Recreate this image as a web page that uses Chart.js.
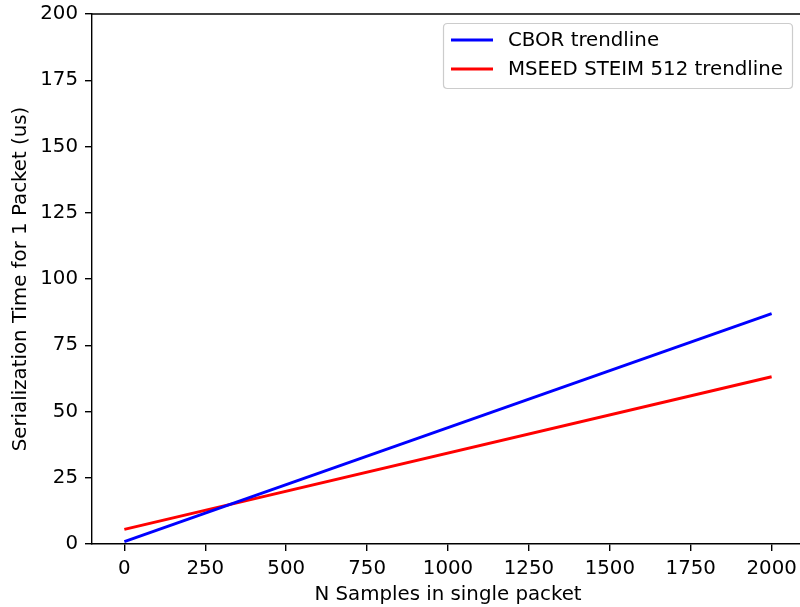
<!DOCTYPE html>
<html>
<head>
<meta charset="utf-8">
<script src="https://cdn.jsdelivr.net/npm/chart.js@4/dist/chart.umd.min.js"></script>
<style>
  html, body { margin: 0; padding: 0; background: #fff; overflow: hidden; }
  #wrap { position: relative; width: 812px; height: 607px; }
</style>
</head>
<body>
<div id="wrap"><canvas id="c"></canvas></div>
<script>
// Sample counts at the ends of each fitted trendline
const sampleCounts = [0, 2000];
// Serialization time (us) per packet along each trendline
const cborTimes = [0.9, 86.9];
const mseedTimes = [5.5, 63.1];
const seriesNames = ['CBOR trendline', 'MSEED STEIM 512 trendline'];
const seriesColors = ['#0000ff', '#ff0000'];
// Axis ticks
const xTickValues = [0, 250, 500, 750, 1000, 1250, 1500, 1750, 2000];
const yTickValues = [0, 25, 50, 75, 100, 125, 150, 175, 200];

const FONT = 'DejaVu Sans';
const FS = 19.8;
const SPINE = 1.4;

const toPoints = ys => sampleCounts.map((x, i) => ({ x, y: ys[i] }));

// Top spine of the axes box
const frame = {
  id: 'frame',
  afterDraw(chart) {
    const { ctx, chartArea: a } = chart;
    ctx.save();
    ctx.strokeStyle = '#000';
    ctx.lineWidth = SPINE;
    ctx.beginPath();
    ctx.moveTo(a.left - SPINE / 2, a.top);
    ctx.lineTo(a.right, a.top);
    ctx.stroke();
    ctx.restore();
  }
};

// Boxed legend in the upper right corner
const boxLegend = {
  id: 'boxLegend',
  afterDraw(chart) {
    const { ctx } = chart;
    const x0 = 443.5, y0 = 23.5, w = 349, h = 65;
    ctx.save();
    ctx.fillStyle = 'rgba(255,255,255,0.8)';
    ctx.strokeStyle = '#cccccc';
    ctx.lineWidth = 1.2;
    const r = 4;
    ctx.beginPath();
    ctx.moveTo(x0 + r, y0);
    ctx.lineTo(x0 + w - r, y0);
    ctx.quadraticCurveTo(x0 + w, y0, x0 + w, y0 + r);
    ctx.lineTo(x0 + w, y0 + h - r);
    ctx.quadraticCurveTo(x0 + w, y0 + h, x0 + w - r, y0 + h);
    ctx.lineTo(x0 + r, y0 + h);
    ctx.quadraticCurveTo(x0, y0 + h, x0, y0 + h - r);
    ctx.lineTo(x0, y0 + r);
    ctx.quadraticCurveTo(x0, y0, x0 + r, y0);
    ctx.closePath();
    ctx.fill();
    ctx.stroke();
    ctx.font = FS + 'px "' + FONT + '"';
    ctx.textBaseline = 'middle';
    ctx.fillStyle = '#000';
    chart.data.datasets.forEach((ds, i) => {
      const yy = 40 + i * 29;
      ctx.strokeStyle = ds.borderColor;
      ctx.lineWidth = 2.9;
      ctx.beginPath();
      ctx.moveTo(451, yy);
      ctx.lineTo(493, yy);
      ctx.stroke();
      ctx.fillText(ds.label, 508, yy + 1);
    });
    ctx.restore();
  }
};

new Chart(document.getElementById('c'), {
  type: 'line',
  data: {
    datasets: [
      { label: seriesNames[0], data: toPoints(cborTimes), borderColor: seriesColors[0], borderWidth: 2.9, pointRadius: 0, tension: 0 },
      { label: seriesNames[1], data: toPoints(mseedTimes), borderColor: seriesColors[1], borderWidth: 2.9, pointRadius: 0, tension: 0 }
    ]
  },
  options: {
    responsive: true,
    maintainAspectRatio: false,
    animation: false,
    layout: { padding: { top: 14, right: 8, left: 0, bottom: 0 } },
    plugins: { legend: { display: false }, tooltip: { enabled: false } },
    scales: {
      x: {
        type: 'linear',
        min: -100,
        max: 2100,
        afterBuildTicks: s => { s.ticks = xTickValues.map(v => ({ value: v })); },
        afterFit: s => { s.height = 63; },
        grid: { drawOnChartArea: false, drawTicks: true, tickLength: 7, color: '#000', lineWidth: SPINE },
        border: { display: true, color: '#000', width: SPINE },
        ticks: { color: '#000', font: { family: FONT, size: FS }, padding: 6, maxRotation: 0, autoSkip: false, callback: v => String(v) },
        title: { display: true, text: 'N Samples in single packet', color: '#000', font: { family: FONT, size: FS }, padding: { top: 0, bottom: 0 } }
      },
      y: {
        type: 'linear',
        min: 0,
        max: 200,
        afterBuildTicks: s => { s.ticks = yTickValues.map(v => ({ value: v })); },
        afterFit: s => { s.width = 92; s.paddingTop = 0; s.paddingBottom = 0; },
        grid: { drawOnChartArea: false, drawTicks: true, tickLength: 7, color: '#000', lineWidth: SPINE },
        border: { display: true, color: '#000', width: SPINE },
        ticks: { color: '#000', font: { family: FONT, size: FS }, padding: 7, autoSkip: false, callback: v => String(v) },
        title: { display: true, text: 'Serialization Time for 1 Packet (us)', color: '#000', font: { family: FONT, size: FS }, padding: { top: 9, bottom: 0 } }
      }
    }
  },
  plugins: [frame, boxLegend]
});
</script>
</body>
</html>
